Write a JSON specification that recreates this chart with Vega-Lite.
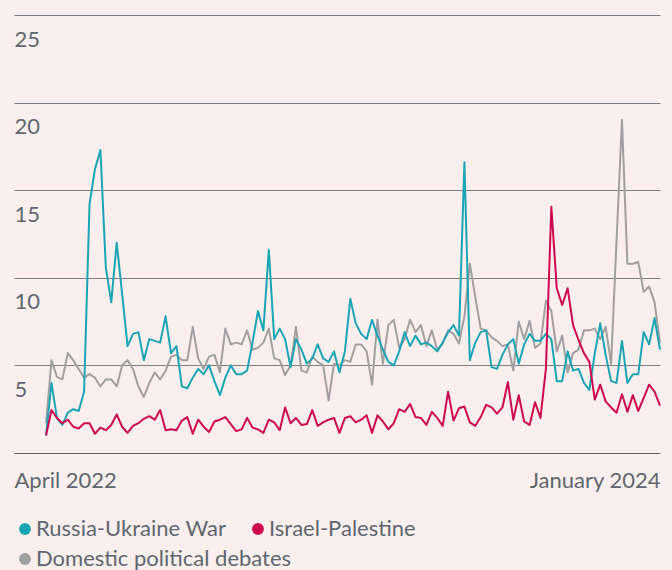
{
  "$schema": "https://vega.github.io/schema/vega-lite/v6.json",
  "width": 646,
  "height": 438,
  "autosize": "none",
  "padding": {"left": 14, "top": 15, "right": 12, "bottom": 117},
  "background": "#fbefed",
  "config": {"view": {"stroke": null}, "font": "Lato"},
  "data": {"values": [
    {"t":0,"Russia-Ukraine War":1.0,"Israel-Palestine":1.0,"Domestic political debates":1.7},
    {"t":1,"Russia-Ukraine War":4.0,"Israel-Palestine":2.45,"Domestic political debates":5.3},
    {"t":2,"Russia-Ukraine War":2.0,"Israel-Palestine":2.0,"Domestic political debates":4.35},
    {"t":3,"Russia-Ukraine War":1.6,"Israel-Palestine":1.7,"Domestic political debates":4.2},
    {"t":4,"Russia-Ukraine War":2.3,"Israel-Palestine":1.9,"Domestic political debates":5.7},
    {"t":5,"Russia-Ukraine War":2.5,"Israel-Palestine":1.5,"Domestic political debates":5.3},
    {"t":6,"Russia-Ukraine War":2.4,"Israel-Palestine":1.4,"Domestic political debates":4.8},
    {"t":7,"Russia-Ukraine War":3.5,"Israel-Palestine":1.7,"Domestic political debates":4.3},
    {"t":8,"Russia-Ukraine War":14.2,"Israel-Palestine":1.7,"Domestic political debates":4.5},
    {"t":9,"Russia-Ukraine War":16.2,"Israel-Palestine":1.1,"Domestic political debates":4.3},
    {"t":10,"Russia-Ukraine War":17.3,"Israel-Palestine":1.45,"Domestic political debates":3.8},
    {"t":11,"Russia-Ukraine War":10.6,"Israel-Palestine":1.3,"Domestic political debates":4.2},
    {"t":12,"Russia-Ukraine War":8.6,"Israel-Palestine":1.6,"Domestic political debates":4.2},
    {"t":13,"Russia-Ukraine War":12.0,"Israel-Palestine":2.2,"Domestic political debates":3.8},
    {"t":14,"Russia-Ukraine War":9.1,"Israel-Palestine":1.5,"Domestic political debates":5.0},
    {"t":15,"Russia-Ukraine War":6.1,"Israel-Palestine":1.15,"Domestic political debates":5.3},
    {"t":16,"Russia-Ukraine War":6.8,"Israel-Palestine":1.55,"Domestic political debates":4.8},
    {"t":17,"Russia-Ukraine War":6.9,"Israel-Palestine":1.7,"Domestic political debates":3.8},
    {"t":18,"Russia-Ukraine War":5.3,"Israel-Palestine":1.95,"Domestic political debates":3.2},
    {"t":19,"Russia-Ukraine War":6.5,"Israel-Palestine":2.1,"Domestic political debates":4.0},
    {"t":20,"Russia-Ukraine War":6.4,"Israel-Palestine":1.9,"Domestic political debates":4.6},
    {"t":21,"Russia-Ukraine War":6.3,"Israel-Palestine":2.45,"Domestic political debates":4.2},
    {"t":22,"Russia-Ukraine War":7.8,"Israel-Palestine":1.3,"Domestic political debates":4.7},
    {"t":23,"Russia-Ukraine War":5.7,"Israel-Palestine":1.35,"Domestic political debates":5.5},
    {"t":24,"Russia-Ukraine War":6.1,"Israel-Palestine":1.3,"Domestic political debates":5.6},
    {"t":25,"Russia-Ukraine War":3.8,"Israel-Palestine":1.85,"Domestic political debates":5.3},
    {"t":26,"Russia-Ukraine War":3.7,"Israel-Palestine":2.05,"Domestic political debates":5.3},
    {"t":27,"Russia-Ukraine War":4.3,"Israel-Palestine":1.1,"Domestic political debates":7.2},
    {"t":28,"Russia-Ukraine War":4.8,"Israel-Palestine":1.9,"Domestic political debates":5.4},
    {"t":29,"Russia-Ukraine War":4.5,"Israel-Palestine":1.5,"Domestic political debates":4.8},
    {"t":30,"Russia-Ukraine War":5.0,"Israel-Palestine":1.2,"Domestic political debates":5.5},
    {"t":31,"Russia-Ukraine War":4.1,"Israel-Palestine":1.8,"Domestic political debates":5.6},
    {"t":32,"Russia-Ukraine War":3.3,"Israel-Palestine":1.9,"Domestic political debates":4.6},
    {"t":33,"Russia-Ukraine War":4.3,"Israel-Palestine":2.05,"Domestic political debates":7.1},
    {"t":34,"Russia-Ukraine War":5.0,"Israel-Palestine":1.65,"Domestic political debates":6.2},
    {"t":35,"Russia-Ukraine War":4.5,"Israel-Palestine":1.25,"Domestic political debates":6.3},
    {"t":36,"Russia-Ukraine War":4.5,"Israel-Palestine":1.35,"Domestic political debates":6.2},
    {"t":37,"Russia-Ukraine War":4.7,"Israel-Palestine":2.0,"Domestic political debates":7.0},
    {"t":38,"Russia-Ukraine War":6.3,"Israel-Palestine":1.45,"Domestic political debates":5.9},
    {"t":39,"Russia-Ukraine War":8.1,"Israel-Palestine":1.35,"Domestic political debates":6.0},
    {"t":40,"Russia-Ukraine War":7.0,"Israel-Palestine":1.15,"Domestic political debates":6.3},
    {"t":41,"Russia-Ukraine War":11.6,"Israel-Palestine":1.9,"Domestic political debates":7.1},
    {"t":42,"Russia-Ukraine War":6.5,"Israel-Palestine":1.75,"Domestic political debates":5.4},
    {"t":43,"Russia-Ukraine War":7.1,"Israel-Palestine":1.3,"Domestic political debates":5.3},
    {"t":44,"Russia-Ukraine War":6.5,"Israel-Palestine":2.6,"Domestic political debates":4.45},
    {"t":45,"Russia-Ukraine War":4.9,"Israel-Palestine":1.7,"Domestic political debates":5.0},
    {"t":46,"Russia-Ukraine War":6.5,"Israel-Palestine":2.0,"Domestic political debates":7.2},
    {"t":47,"Russia-Ukraine War":5.9,"Israel-Palestine":1.6,"Domestic political debates":4.7},
    {"t":48,"Russia-Ukraine War":5.1,"Israel-Palestine":1.65,"Domestic political debates":4.6},
    {"t":49,"Russia-Ukraine War":5.4,"Israel-Palestine":2.45,"Domestic political debates":5.5},
    {"t":50,"Russia-Ukraine War":6.2,"Israel-Palestine":1.55,"Domestic political debates":5.2},
    {"t":51,"Russia-Ukraine War":5.4,"Israel-Palestine":1.75,"Domestic political debates":5.0},
    {"t":52,"Russia-Ukraine War":5.2,"Israel-Palestine":1.9,"Domestic political debates":3.0},
    {"t":53,"Russia-Ukraine War":5.8,"Israel-Palestine":2.0,"Domestic political debates":5.1},
    {"t":54,"Russia-Ukraine War":4.6,"Israel-Palestine":1.15,"Domestic political debates":5.0},
    {"t":55,"Russia-Ukraine War":5.8,"Israel-Palestine":2.0,"Domestic political debates":5.3},
    {"t":56,"Russia-Ukraine War":8.8,"Israel-Palestine":2.1,"Domestic political debates":5.2},
    {"t":57,"Russia-Ukraine War":7.4,"Israel-Palestine":1.75,"Domestic political debates":6.2},
    {"t":58,"Russia-Ukraine War":6.8,"Israel-Palestine":1.9,"Domestic political debates":6.2},
    {"t":59,"Russia-Ukraine War":6.5,"Israel-Palestine":2.15,"Domestic political debates":5.8},
    {"t":60,"Russia-Ukraine War":7.6,"Israel-Palestine":1.15,"Domestic political debates":3.9},
    {"t":61,"Russia-Ukraine War":6.7,"Israel-Palestine":2.15,"Domestic political debates":7.6},
    {"t":62,"Russia-Ukraine War":5.9,"Israel-Palestine":1.8,"Domestic political debates":5.1},
    {"t":63,"Russia-Ukraine War":5.2,"Israel-Palestine":1.35,"Domestic political debates":7.3},
    {"t":64,"Russia-Ukraine War":5.0,"Israel-Palestine":1.7,"Domestic political debates":7.6},
    {"t":65,"Russia-Ukraine War":5.8,"Israel-Palestine":2.5,"Domestic political debates":6.0},
    {"t":66,"Russia-Ukraine War":6.9,"Israel-Palestine":2.35,"Domestic political debates":6.5},
    {"t":67,"Russia-Ukraine War":6.1,"Israel-Palestine":2.8,"Domestic political debates":7.6},
    {"t":68,"Russia-Ukraine War":6.7,"Israel-Palestine":2.05,"Domestic political debates":6.9},
    {"t":69,"Russia-Ukraine War":6.2,"Israel-Palestine":2.0,"Domestic political debates":7.3},
    {"t":70,"Russia-Ukraine War":6.3,"Israel-Palestine":1.6,"Domestic political debates":6.1},
    {"t":71,"Russia-Ukraine War":6.1,"Israel-Palestine":2.35,"Domestic political debates":7.0},
    {"t":72,"Russia-Ukraine War":5.8,"Israel-Palestine":2.0,"Domestic political debates":5.9},
    {"t":73,"Russia-Ukraine War":6.3,"Israel-Palestine":1.55,"Domestic political debates":6.25},
    {"t":74,"Russia-Ukraine War":6.9,"Israel-Palestine":3.5,"Domestic political debates":7.0},
    {"t":75,"Russia-Ukraine War":7.3,"Israel-Palestine":1.85,"Domestic political debates":6.8},
    {"t":76,"Russia-Ukraine War":6.7,"Israel-Palestine":2.55,"Domestic political debates":6.25},
    {"t":77,"Russia-Ukraine War":16.6,"Israel-Palestine":2.65,"Domestic political debates":7.8},
    {"t":78,"Russia-Ukraine War":5.3,"Israel-Palestine":1.75,"Domestic political debates":10.8},
    {"t":79,"Russia-Ukraine War":6.3,"Israel-Palestine":1.55,"Domestic political debates":8.9},
    {"t":80,"Russia-Ukraine War":6.9,"Israel-Palestine":2.05,"Domestic political debates":7.1},
    {"t":81,"Russia-Ukraine War":7.0,"Israel-Palestine":2.75,"Domestic political debates":7.0},
    {"t":82,"Russia-Ukraine War":4.9,"Israel-Palestine":2.6,"Domestic political debates":6.6},
    {"t":83,"Russia-Ukraine War":4.8,"Israel-Palestine":2.25,"Domestic political debates":6.4},
    {"t":84,"Russia-Ukraine War":5.6,"Israel-Palestine":2.6,"Domestic political debates":6.1},
    {"t":85,"Russia-Ukraine War":6.2,"Israel-Palestine":4.05,"Domestic political debates":6.2},
    {"t":86,"Russia-Ukraine War":6.5,"Israel-Palestine":1.9,"Domestic political debates":4.7},
    {"t":87,"Russia-Ukraine War":5.1,"Israel-Palestine":3.3,"Domestic political debates":7.5},
    {"t":88,"Russia-Ukraine War":6.2,"Israel-Palestine":1.8,"Domestic political debates":6.5},
    {"t":89,"Russia-Ukraine War":6.8,"Israel-Palestine":1.6,"Domestic political debates":7.55},
    {"t":90,"Russia-Ukraine War":6.4,"Israel-Palestine":2.9,"Domestic political debates":6.0},
    {"t":91,"Russia-Ukraine War":6.4,"Israel-Palestine":2.0,"Domestic political debates":6.25},
    {"t":92,"Russia-Ukraine War":6.8,"Israel-Palestine":4.8,"Domestic political debates":8.7},
    {"t":93,"Russia-Ukraine War":6.5,"Israel-Palestine":14.05,"Domestic political debates":8.1},
    {"t":94,"Russia-Ukraine War":4.1,"Israel-Palestine":9.4,"Domestic political debates":5.8},
    {"t":95,"Russia-Ukraine War":4.1,"Israel-Palestine":8.45,"Domestic political debates":6.7},
    {"t":96,"Russia-Ukraine War":5.8,"Israel-Palestine":9.4,"Domestic political debates":4.6},
    {"t":97,"Russia-Ukraine War":4.7,"Israel-Palestine":7.3,"Domestic political debates":5.7},
    {"t":98,"Russia-Ukraine War":4.8,"Israel-Palestine":6.45,"Domestic political debates":5.9},
    {"t":99,"Russia-Ukraine War":4.0,"Israel-Palestine":5.7,"Domestic political debates":7.0},
    {"t":100,"Russia-Ukraine War":3.6,"Israel-Palestine":5.2,"Domestic political debates":7.0},
    {"t":101,"Russia-Ukraine War":5.7,"Israel-Palestine":3.05,"Domestic political debates":7.1},
    {"t":102,"Russia-Ukraine War":7.4,"Israel-Palestine":3.9,"Domestic political debates":6.5},
    {"t":103,"Russia-Ukraine War":5.6,"Israel-Palestine":2.95,"Domestic political debates":7.2},
    {"t":104,"Russia-Ukraine War":4.1,"Israel-Palestine":2.6,"Domestic political debates":5.1},
    {"t":105,"Russia-Ukraine War":4.0,"Israel-Palestine":2.3,"Domestic political debates":12.1},
    {"t":106,"Russia-Ukraine War":6.4,"Israel-Palestine":3.35,"Domestic political debates":19.0},
    {"t":107,"Russia-Ukraine War":4.0,"Israel-Palestine":2.35,"Domestic political debates":10.8},
    {"t":108,"Russia-Ukraine War":4.5,"Israel-Palestine":3.3,"Domestic political debates":10.8},
    {"t":109,"Russia-Ukraine War":4.5,"Israel-Palestine":2.4,"Domestic political debates":10.9},
    {"t":110,"Russia-Ukraine War":6.9,"Israel-Palestine":3.15,"Domestic political debates":9.2},
    {"t":111,"Russia-Ukraine War":6.2,"Israel-Palestine":3.9,"Domestic political debates":9.5},
    {"t":112,"Russia-Ukraine War":7.7,"Israel-Palestine":3.5,"Domestic political debates":8.6},
    {"t":113,"Russia-Ukraine War":5.9,"Israel-Palestine":2.7,"Domestic political debates":6.3}
  ]},
  "transform": [
    {"fold": ["Domestic political debates", "Russia-Ukraine War", "Israel-Palestine"], "as": ["series", "value"]}
  ],
  "encoding": {
    "x": {
      "field": "t", "type": "quantitative",
      "scale": {"domain": [-5.9, 113], "nice": false, "zero": false},
      "axis": {
        "values": [-5.9, 113],
        "labelExpr": "datum.value < 50 ? 'April 2022' : 'January 2024'",
        "labelFlush": true, "grid": false, "ticks": false,
        "domain": true, "domainColor": "#5e6066", "domainWidth": 1,
        "title": null, "labelFontSize": 22, "labelColor": "#5d6770",
        "labelPadding": 17, "labelFont": "Lato"
      }
    },
    "y": {
      "field": "value", "type": "quantitative",
      "scale": {"domain": [0, 25], "nice": false},
      "axis": {
        "values": [5, 10, 15, 20, 25],
        "grid": true, "gridColor": "#7d8085", "gridWidth": 1,
        "domain": false, "ticks": false, "title": null,
        "labelAlign": "left", "labelBaseline": "top", "labelPadding": 0,
        "labelOffset": 14, "labelFontSize": 22, "labelColor": "#5d6770", "labelFont": "Lato"
      }
    }
  },
  "layer": [
    {
      "transform": [{"filter": "datum.series === 'Domestic political debates'"}],
      "mark": {"type": "line", "strokeWidth": 2, "strokeJoin": "round"},
      "encoding": {
        "stroke": {
          "field": "series", "type": "nominal",
          "scale": {"domain": ["Domestic political debates"], "range": ["#a0a0a0"]},
          "legend": {
            "orient": "none", "legendX": 0, "legendY": 533,
            "direction": "horizontal", "title": null, "symbolType": "circle", "symbolSize": 140,
            "symbolStrokeWidth": 0, "labelFontSize": 22, "labelColor": "#5d6770",
            "labelFont": "Lato", "labelOffset": 0, "labelLimit": 0, "columnPadding": 20,
            "padding": 0,
            "encode": {"symbols": {"update": {"fill": {"scale": "stroke", "field": "value"}, "opacity": {"value": 1}}}}
          }
        }
      }
    },
    {
      "transform": [{"filter": "datum.series !== 'Domestic political debates'"}],
      "mark": {"type": "line", "strokeWidth": 2, "strokeJoin": "round"},
      "encoding": {
        "color": {
          "field": "series", "type": "nominal",
          "scale": {"domain": ["Russia-Ukraine War", "Israel-Palestine"], "range": ["#1aa5b5", "#cc0a4f"]},
          "legend": {
            "orient": "none", "legendX": 0, "legendY": 503,
            "direction": "horizontal", "title": null, "symbolType": "circle", "symbolSize": 140,
            "symbolStrokeWidth": 0, "labelFontSize": 22, "labelColor": "#5d6770",
            "labelFont": "Lato", "labelOffset": 0, "labelLimit": 0, "columnPadding": 20,
            "padding": 0,
            "encode": {"symbols": {"update": {"fill": {"scale": "color", "field": "value"}, "opacity": {"value": 1}}}}
          }
        }
      }
    }
  ]
}
